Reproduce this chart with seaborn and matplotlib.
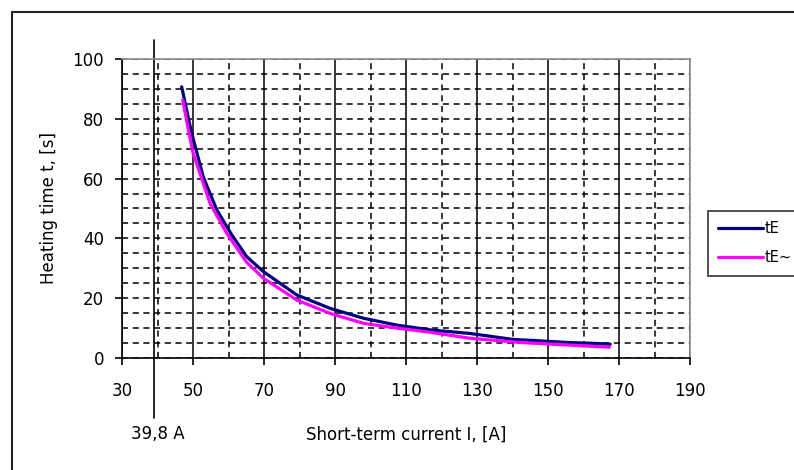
import numpy as np
import pandas as pd
import matplotlib.pyplot as plt
import seaborn as sns
from matplotlib.ticker import FixedLocator
from matplotlib.lines import Line2D

sns.set_style("white")
plt.rcParams['font.family'] = ['DejaVu Sans']
plt.rcParams['text.color'] = 'black'
plt.rcParams['axes.labelcolor'] = 'black'
plt.rcParams['xtick.color'] = 'black'
plt.rcParams['ytick.color'] = 'black'

# values
current_te = [46.8, 49.2, 50.0, 52.9, 56.7, 60.8, 65.1, 69.8, 79.2, 88.6, 98.0,
              107.4, 116.8, 128.0, 140.2, 146.8, 155.3, 162.8, 167.5]
time_te = [90.7, 77.4, 73.5, 60.5, 49.5, 41.4, 33.9, 28.9, 21.1, 16.6, 13.3,
           11.0, 9.4, 8.2, 6.2, 5.8, 5.2, 4.9, 4.6]
current_te2 = [47.1, 48.7, 50.0, 54.8, 59.5, 65.1, 69.8, 79.2, 88.6, 98.0,
               107.4, 116.8, 128.0, 142.0, 156.2, 167.3]
time_te2 = [86.3, 76.3, 68.6, 51.7, 41.7, 32.0, 26.7, 19.4, 14.9, 11.6,
            10.0, 8.6, 6.6, 5.2, 4.3, 3.6]
series_names = ['tE', 'tE~']
series_colors = ['#000080', '#FF00FF']
x_ticks = [30, 50, 70, 90, 110, 130, 150, 170, 190]
y_ticks = [0, 20, 40, 60, 80, 100]
limit_x = 38.9
limit_label = '39,8 A'

df = pd.concat([
    pd.DataFrame({'I': current_te, 't': time_te, 'series': series_names[0]}),
    pd.DataFrame({'I': current_te2, 't': time_te2, 'series': series_names[1]}),
])

fig = plt.figure(figsize=(7.94, 4.70), dpi=100)
ax = fig.add_axes([0.1537, 0.2383, 0.7154, 0.6362])

# grid
ax.set_xticks(x_ticks)
ax.set_yticks(y_ticks)
ax.xaxis.set_minor_locator(FixedLocator(np.arange(40, 190, 20)))
ax.yaxis.set_minor_locator(FixedLocator(np.arange(5, 100, 5)))
ax.xaxis.grid(True, which='major', color='black', lw=1.1, ls='-')
ax.xaxis.grid(True, which='minor', color='black', lw=1.1, ls=(0, (4.0, 3.0)))
ax.yaxis.grid(True, which='both', color='black', lw=1.1, ls=(0, (4.0, 3.0)))
ax.set_axisbelow(True)

pal = dict(zip(series_names, series_colors))
sns.lineplot(data=df, x='I', y='t', hue='series', palette=pal, lw=2.3,
             sort=False, legend=False, ax=ax)

ax.set_xlim(30, 190)
ax.set_ylim(0, 100)

for s in ['left', 'bottom']:
    ax.spines[s].set_color('black')
    ax.spines[s].set_linewidth(1.2)
for s in ['top', 'right']:
    ax.spines[s].set_color('#8c8c8c')
    ax.spines[s].set_linewidth(1.2)

ax.tick_params(which='major', direction='out', length=5, width=1.2, color='black',
               labelsize=12, bottom=True, left=True)
ax.tick_params(which='minor', length=0)
ax.tick_params(axis='x', pad=12)
ax.tick_params(axis='y', pad=8)

ax.set_xlabel('Short-term current I, [A]', fontsize=12, labelpad=19)
ax.set_ylabel('Heating time t, [s]', fontsize=12, labelpad=10)

# limit current marker
ax.axvline(limit_x, ymin=-0.20, ymax=1.064, color='black', lw=1.2, clip_on=False)
ax.text(40.0, -0.254, limit_label, transform=ax.get_xaxis_transform(),
        ha='center', va='center', fontsize=12)

# legend
handles = [Line2D([], [], color=c, lw=2.3) for c in series_colors]
leg = fig.legend(handles, series_names, loc='center left',
                 bbox_to_anchor=(708 / 794, 1 - 243 / 470), fontsize=10.5,
                 frameon=True, fancybox=False, edgecolor='black',
                 handlelength=3.1, handletextpad=0.1, borderpad=0.7,
                 labelspacing=1.0, borderaxespad=0)
leg.get_frame().set_linewidth(1.2)

# outer chart frame
fig.add_artist(Line2D([12 / 794, 12 / 794], [0, 1 - 12 / 470], color='#222222',
                      lw=1.5, transform=fig.transFigure))
fig.add_artist(Line2D([12 / 794, 1], [1 - 12 / 470, 1 - 12 / 470], color='#222222',
                      lw=1.5, transform=fig.transFigure))

fig.savefig('out.png', dpi=100)
